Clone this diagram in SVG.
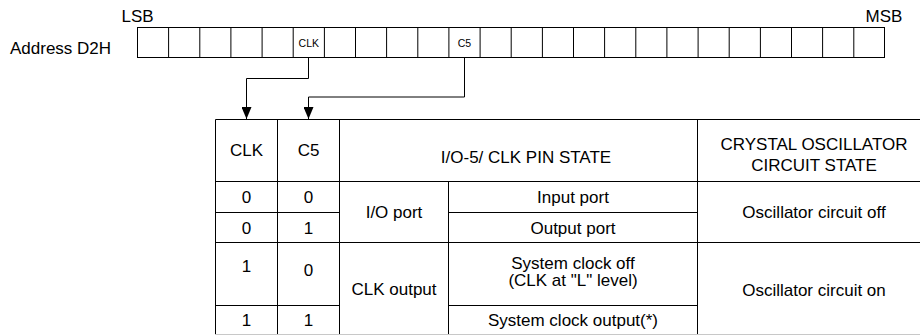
<svg xmlns="http://www.w3.org/2000/svg" width="920" height="335" viewBox="0 0 920 335">
<style>
text{font-family:"Liberation Sans",Arial,sans-serif;font-size:17px;fill:#000;text-anchor:middle}
.s{font-size:10.5px}
.l{text-anchor:start}
.ln{stroke:#000;stroke-width:1;fill:none}
</style>
<defs>
<marker id="ah" markerWidth="12" markerHeight="10" refX="12" refY="5" orient="auto" markerUnits="userSpaceOnUse" viewBox="0 0 12 10">
<path d="M0,0 L12,5 L0,10 Z" fill="#000"/>
</marker>
</defs>
<rect width="920" height="335" fill="#fff"/>
<g id="labels">
<text x="137.5" y="22">LSB</text>
<text x="884" y="22">MSB</text>
<text class="l" x="10" y="53.5">Address D2H</text>
</g>
<g id="register">
<rect class="ln" x="137.5" y="27.5" width="747" height="30"/>
<path class="ln" d="M168.6,27.5v30M199.8,27.5v30M230.9,27.5v30M262.1,27.5v30M293.2,27.5v30M324.4,27.5v30M355.5,27.5v30M386.6,27.5v30M417.8,27.5v30M448.9,27.5v30M480.1,27.5v30M511.2,27.5v30M542.4,27.5v30M573.5,27.5v30M604.6,27.5v30M635.8,27.5v30M666.9,27.5v30M698.1,27.5v30M729.2,27.5v30M760.4,27.5v30M791.5,27.5v30M822.6,27.5v30M853.8,27.5v30"/>
<text class="s" x="308.8" y="46.5">CLK</text>
<text class="s" x="464.5" y="46.5">C5</text>
</g>
<g id="connectors">
<path class="ln" d="M308.5,57.5V78.5H246.5V119" marker-end="url(#ah)"/>
<path class="ln" d="M464.5,57.5V97H308.5V119" marker-end="url(#ah)"/>
</g>
<g id="table">
<path class="ln" d="M215.5,119.5H920M215.5,181.5H920M215.5,212.5H339.5M448.5,212.5H697.5M215.5,242.5H920M215.5,305.5H339.5M448.5,305.5H697.5M215.5,119.5V335M277.5,119.5V335M339.5,119.5V335M448.5,181.5V335M697.5,119.5V335"/>
<line x1="215" y1="334.5" x2="920" y2="334.5" stroke="#c8c8c8" stroke-width="1"/>
<text x="246.5" y="156">CLK</text>
<text x="308.5" y="156">C5</text>
<text x="526" y="163">I/O-5/ CLK PIN STATE</text>
<text x="814" y="149.5">CRYSTAL OSCILLATOR</text>
<text x="814" y="171">CIRCUIT STATE</text>
<text x="246.5" y="203">0</text>
<text x="308.5" y="203">0</text>
<text x="573" y="203">Input port</text>
<text x="246.5" y="233.5">0</text>
<text x="308.5" y="233.5">1</text>
<text x="573" y="233.5">Output port</text>
<text x="394" y="218">I/O port</text>
<text x="814" y="218">Oscillator circuit off</text>
<text x="246.5" y="271.5">1</text>
<text x="308.5" y="275.5">0</text>
<text x="573" y="268.5">System clock off</text>
<text x="573" y="286">(CLK at "L" level)</text>
<text x="394" y="294.5">CLK output</text>
<text x="814" y="296">Oscillator circuit on</text>
<text x="246.5" y="326">1</text>
<text x="308.5" y="326">1</text>
<text x="573" y="326">System clock output(*)</text>
</g>
</svg>
